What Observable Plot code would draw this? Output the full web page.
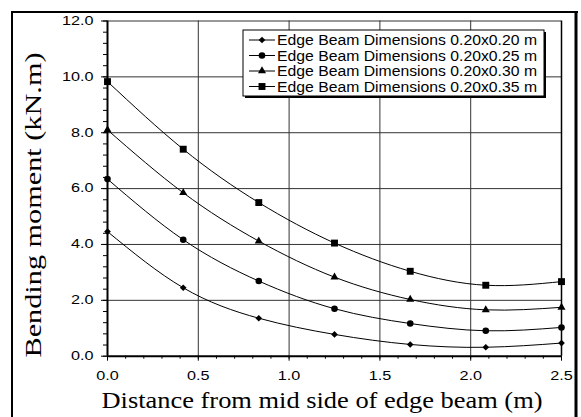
<!DOCTYPE html>
<html><head><meta charset="utf-8">
<script src="https://cdn.jsdelivr.net/npm/d3@7"></script>
<script src="https://cdn.jsdelivr.net/npm/@observablehq/plot@0.6"></script>
<style>
html,body{margin:0;padding:0;background:#fff;}
#chart{position:relative;width:581px;height:417px;overflow:hidden;}
#chart svg{font-family:'Liberation Sans', Arial, sans-serif;font-size:12px;color:#000;}
</style></head><body><div id="chart"></div>
<script>
// ---- data ----
const distances = [0, 0.417, 0.833, 1.25, 1.667, 2.083, 2.5];
const seriesNames = [
  "Edge Beam Dimensions 0.20x0.20 m",
  "Edge Beam Dimensions 0.20x0.25 m",
  "Edge Beam Dimensions 0.20x0.30 m",
  "Edge Beam Dimensions 0.20x0.35 m"
];
const moment020 = [4.46, 2.45, 1.36, 0.78, 0.42, 0.32, 0.47];
const moment025 = [6.34, 4.17, 2.69, 1.70, 1.17, 0.91, 1.03];
const moment030 = [8.10, 5.85, 4.12, 2.83, 2.03, 1.66, 1.75];
const moment035 = [9.83, 7.41, 5.50, 4.05, 3.04, 2.54, 2.67];
const yTicks = [0, 2, 4, 6, 8, 10, 12];
const xTicks = [0, 0.5, 1, 1.5, 2, 2.5];
const yMinorCount = 30; // minor tick every 0.4
const xMinorCount = 25; // minor tick every 0.1
const xTitle = "Distance from mid side of edge beam (m)";
const yTitle = "Bending moment (kN.m)";

const symbols = ["diamond2", "circle", "triangle", "square"];
const symbolR = [3.0, 3.3, 3.0, 3.9];

const seriesVals = [moment020, moment025, moment030, moment035];
const rows = [];
seriesVals.forEach((vals, i) => distances.forEach((d, j) => rows.push({series: seriesNames[i], x: d, y: vals[j]})));

const yMinor = d3.range(yMinorCount + 1).map(i => i * 12 / yMinorCount);
const xMinor = d3.range(xMinorCount + 1).map(i => i * 2.5 / xMinorCount);
const xMin = xTicks[0], xMax = xTicks[xTicks.length - 1];
const yMin = yTicks[0], yMax = yTicks[yTicks.length - 1];

const plot = Plot.plot({
  width: 581, height: 417,
  marginLeft: 107, marginRight: 20, marginTop: 20.5, marginBottom: 61.3,
  x: {domain: [xMin, xMax]},
  y: {domain: [yMin, yMax]},
  marks: [
    Plot.ruleY(yTicks.slice(1), {stroke: "#333", strokeWidth: 1}),
    Plot.ruleX(xTicks.slice(1, -1), {stroke: "#333", strokeWidth: 1}),
    Plot.axisY(yMinor, {tickSize: 4, tickFormat: () => "", label: null}),
    Plot.axisY(yTicks, {tickSize: 6, tickPadding: 8, tickFormat: d => d.toFixed(1), label: null}),
    Plot.axisX(xMinor, {tickSize: 3, tickFormat: () => "", label: null}),
    Plot.axisX(xTicks, {tickSize: 5, tickPadding: 10, tickFormat: d => d.toFixed(1), label: null}),
    Plot.ruleX([xMin], {stroke: "#000", strokeWidth: 2}),
    Plot.ruleY([yMin], {stroke: "#000", strokeWidth: 2}),
    Plot.ruleX([xMax], {stroke: "#000", strokeWidth: 1.5}),
    Plot.line(rows, {x: "x", y: "y", z: "series", curve: "natural", stroke: "#000", strokeWidth: 1}),
    ...seriesNames.map((name, i) => Plot.dot(rows.filter(r => r.series === name), {
      x: "x", y: "y", symbol: symbols[i], r: symbolR[i], fill: "#000", stroke: "none"
    }))
  ]
});

document.getElementById("chart").appendChild(plot);
const svg = d3.select(plot);

// stretch tick labels horizontally like the reference
svg.selectAll('g[aria-label="y-axis tick label"] text, g[aria-label="x-axis tick label"] text').each(function() {
  const w = this.getComputedTextLength();
  if (w > 0) { this.setAttribute("textLength", w * 1.35); this.setAttribute("lengthAdjust", "spacingAndGlyphs"); }
});

// outer frame
svg.append("line").attr("x1", 11).attr("x2", 578).attr("y1", 12).attr("y2", 12).attr("stroke", "#000").attr("stroke-width", 2);
svg.append("line").attr("x1", 12).attr("x2", 12).attr("y1", 11).attr("y2", 420).attr("stroke", "#000").attr("stroke-width", 2);
svg.append("line").attr("x1", 576).attr("x2", 576).attr("y1", 11).attr("y2", 420).attr("stroke", "#000").attr("stroke-width", 3);

// axis titles
svg.append("text").text(xTitle)
  .attr("x", 322).attr("y", 408).attr("text-anchor", "middle")
  .attr("font-family", "'Liberation Serif', 'Times New Roman', serif").attr("font-size", 24)
  .attr("textLength", 441).attr("lengthAdjust", "spacingAndGlyphs");
svg.append("text").text(yTitle)
  .attr("transform", "translate(41,205) rotate(-90)").attr("text-anchor", "middle")
  .attr("font-family", "'Liberation Serif', 'Times New Roman', serif").attr("font-size", 24)
  .attr("textLength", 305).attr("lengthAdjust", "spacingAndGlyphs");

// legend
const lg = svg.append("g");
lg.append("rect").attr("x", 245).attr("y", 32).attr("width", 301).attr("height", 66).attr("fill", "#000");
lg.append("rect").attr("x", 243).attr("y", 30).attr("width", 301).attr("height", 66).attr("fill", "#fff").attr("stroke", "#000");
const d3sym = {diamond2: d3.symbolDiamond2, circle: d3.symbolCircle, triangle: d3.symbolTriangle, square: d3.symbolSquare};
const rowY = [40, 55.5, 71, 86.5];
seriesNames.forEach((name, i) => {
  const y = rowY[i];
  lg.append("line").attr("x1", 249).attr("x2", 275).attr("y1", y).attr("y2", y).attr("stroke", "#000");
  lg.append("path").attr("d", d3.symbol(d3sym[symbols[i]], symbolR[i] * symbolR[i] * Math.PI)())
    .attr("transform", `translate(262,${y})`).attr("fill", "#000");
  lg.append("text").text(name).attr("x", 277).attr("y", y).attr("dy", "0.36em").attr("text-anchor", "start")
    .attr("font-family", "'Liberation Sans', Arial, sans-serif").attr("font-size", 14)
    .attr("textLength", 260).attr("lengthAdjust", "spacingAndGlyphs");
});
</script>
</body></html>
